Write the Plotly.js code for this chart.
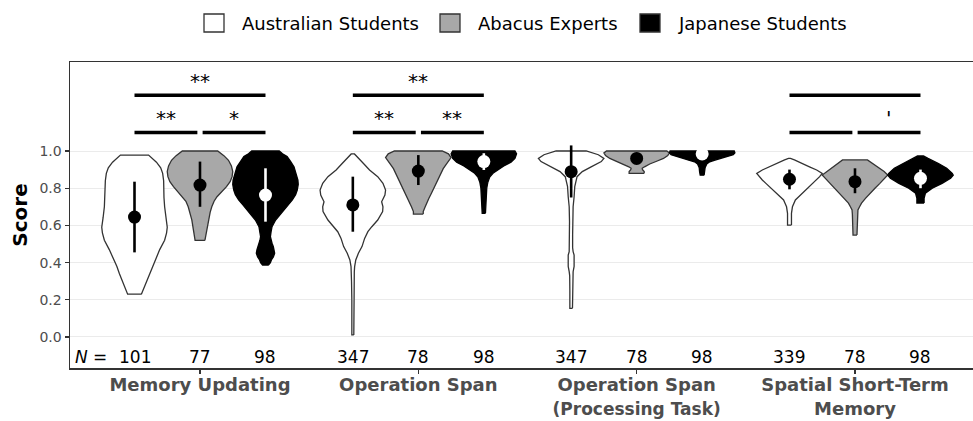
<!DOCTYPE html>
<html>
<head>
<meta charset="utf-8">
<script src="https://cdn.plot.ly/plotly-3.0.1.min.js"></script>
<style>
  html, body { margin: 0; padding: 0; background: #ffffff; }
  #chart { width: 973px; height: 421px; }
</style>
</head>
<body>
<div id="chart"></div>
<script>
// ---------------- DATA ----------------
const categories = ["Memory Updating", "Operation Span", "Operation Span", "Spatial Short-Term"];
const categorySub = ["", "", "(Processing Task)", "Memory"];
const groups = ["Australian Students", "Abacus Experts", "Japanese Students"];

const nAus = [101, 347, 347, 339];
const nAbacus = [77, 78, 78, 78];
const nJapanese = [98, 98, 98, 98];

// mean and +/- 1 SD per task (Memory Updating, Operation Span, OS Processing, Spatial STM)
const meanAus = [0.645, 0.710, 0.889, 0.848];
const loAus = [0.455, 0.566, 0.750, 0.794];
const hiAus = [0.835, 0.862, 1.030, 0.900];
const meanAbacus = [0.817, 0.892, 0.960, 0.835];
const loAbacus = [0.700, 0.817, 0.930, 0.773];
const hiAbacus = [0.943, 0.978, 0.990, 0.907];
const meanJapanese = [0.763, 0.943, 0.984, 0.853];
const loJapanese = [0.620, 0.898, 0.965, 0.800];
const hiJapanese = [0.907, 0.988, 1.000, 0.900];

// violin density profiles (score levels and relative density, max = 1)
const muAusScore = [0.23, 0.26, 0.30, 0.34, 0.38, 0.43, 0.47, 0.52, 0.56, 0.59, 0.64, 0.70, 0.75, 0.79, 0.84, 0.88, 0.91, 0.94, 0.96, 0.978];
const muAusDens  = [0.21, 0.28, 0.37, 0.46, 0.54, 0.66, 0.77, 0.92, 0.98, 1.00, 0.96, 0.92, 0.90, 0.90, 0.89, 0.86, 0.80, 0.67, 0.55, 0.43];
const muAbaScore = [0.52, 0.55, 0.575, 0.63, 0.67, 0.70, 0.73, 0.754, 0.78, 0.808, 0.835, 0.862, 0.89, 0.92, 0.95, 0.975, 1.0];
const muAbaDens  = [0.15, 0.18, 0.20, 0.25, 0.31, 0.36, 0.43, 0.52, 0.67, 0.81, 0.92, 0.98, 1.00, 0.96, 0.87, 0.73, 0.54];
const muJapScore = [0.387, 0.40, 0.414, 0.43, 0.45, 0.47, 0.486, 0.504, 0.52, 0.539, 0.565, 0.593, 0.629, 0.655, 0.683, 0.71, 0.737, 0.765, 0.79, 0.82, 0.844, 0.88, 0.915, 0.945, 0.97, 0.985, 1.0];
const muJapDens  = [0.09, 0.15, 0.18, 0.24, 0.28, 0.26, 0.24, 0.20, 0.17, 0.15, 0.17, 0.20, 0.31, 0.43, 0.56, 0.69, 0.82, 0.92, 0.97, 1.00, 0.99, 0.93, 0.87, 0.76, 0.66, 0.52, 0.42];

const osAusScore = [0.011, 0.10, 0.20, 0.30, 0.35, 0.378, 0.414, 0.45, 0.486, 0.53, 0.566, 0.593, 0.629, 0.674, 0.70, 0.727, 0.763, 0.79, 0.826, 0.862, 0.898, 0.93, 0.952, 0.97, 0.984];
const osAusDens  = [0.03, 0.03, 0.03, 0.04, 0.045, 0.055, 0.09, 0.17, 0.28, 0.36, 0.46, 0.58, 0.76, 0.91, 0.92, 0.88, 0.98, 1.00, 0.92, 0.76, 0.51, 0.34, 0.23, 0.12, 0.05];
const osAbaScore = [0.661, 0.674, 0.70, 0.72, 0.745, 0.773, 0.80, 0.826, 0.855, 0.88, 0.905, 0.925, 0.945, 0.965, 0.985, 1.0];
const osAbaDens  = [0.15, 0.15, 0.21, 0.25, 0.32, 0.40, 0.47, 0.56, 0.63, 0.69, 0.76, 0.84, 0.93, 1.00, 0.92, 0.73];
const osJapScore = [0.665, 0.70, 0.75, 0.80, 0.83, 0.86, 0.88, 0.90, 0.92, 0.94, 0.96, 0.985, 1.0];
const osJapDens  = [0.05, 0.06, 0.07, 0.09, 0.12, 0.18, 0.28, 0.43, 0.61, 0.83, 0.95, 1.00, 0.95];

const ospAusScore = [0.154, 0.25, 0.33, 0.351, 0.38, 0.41, 0.44, 0.459, 0.48, 0.55, 0.62, 0.70, 0.754, 0.808, 0.862, 0.889, 0.915, 0.943, 0.96, 0.98, 1.0];
const ospAusDens  = [0.04, 0.04, 0.045, 0.06, 0.09, 0.10, 0.09, 0.06, 0.045, 0.045, 0.05, 0.06, 0.09, 0.11, 0.18, 0.34, 0.61, 0.92, 1.00, 0.83, 0.46];
const ospAbaScore = [0.88, 0.89, 0.90, 0.907, 0.915, 0.93, 0.945, 0.96, 0.975, 0.99, 1.0];
const ospAbaDens  = [0.23, 0.23, 0.18, 0.17, 0.24, 0.40, 0.61, 0.82, 0.95, 1.00, 0.92];
const ospJapScore = [0.87, 0.89, 0.91, 0.93, 0.94, 0.95, 0.96, 0.97, 0.98, 0.99, 1.0];
const ospJapDens  = [0.06, 0.08, 0.09, 0.14, 0.21, 0.37, 0.55, 0.76, 0.95, 1.00, 0.98];

const ssAusScore = [0.602, 0.63, 0.665, 0.70, 0.72, 0.737, 0.755, 0.773, 0.79, 0.808, 0.826, 0.844, 0.862, 0.88, 0.898, 0.915, 0.933, 0.952, 0.96];
const ssAusDens  = [0.06, 0.06, 0.06, 0.09, 0.14, 0.18, 0.29, 0.40, 0.50, 0.61, 0.72, 0.83, 0.92, 1.00, 0.83, 0.61, 0.40, 0.15, 0.03];
const ssAbaScore = [0.548, 0.60, 0.629, 0.66, 0.683, 0.70, 0.72, 0.745, 0.773, 0.80, 0.826, 0.85, 0.871, 0.89, 0.91, 0.93, 0.952];
const ssAbaDens  = [0.06, 0.07, 0.08, 0.08, 0.09, 0.14, 0.20, 0.32, 0.46, 0.61, 0.76, 0.89, 1.00, 0.89, 0.73, 0.55, 0.38];
const ssJapScore = [0.72, 0.746, 0.773, 0.80, 0.826, 0.853, 0.87, 0.88, 0.907, 0.933, 0.96, 0.973];
const ssJapDens  = [0.11, 0.11, 0.15, 0.36, 0.66, 0.92, 1.00, 0.97, 0.80, 0.55, 0.23, 0.09];

// significance comparisons: task index, from group, to group, level (0 lower, 1 upper), label
const sigTask  = [0, 0, 0, 1, 1, 1, 3, 3, 3];
const sigFrom  = [0, 1, 0, 0, 1, 0, 0, 1, 0];
const sigTo    = [1, 2, 2, 1, 2, 2, 1, 2, 2];
const sigLevel = [0, 0, 1, 0, 0, 1, 0, 0, 1];
const sigLabel = ["**", "*", "**", "**", "**", "**", "", "'", ""];

const yTickVals = [0, 0.2, 0.4, 0.6, 0.8, 1.0];
const yTickText = ["0.0", "0.2", "0.4", "0.6", "0.8", "1.0"];

// ---------------- BUILD ----------------
const FONT = "DejaVu Sans, Liberation Sans, Arial, sans-serif";
const W = 973, H = 421;
const M = { l: 70, r: 0, t: 62, b: 53 };
const PW = W - M.l - M.r, PH = H - M.t - M.b;
const DODGE = [-0.3, 0, 0.3];
const HALF = 0.15;
const fills = ["#ffffff", "#a8a8a8", "#000000"];
const outlines = ["#333333", "#333333", "#000000"];
const pointCol = ["#000000", "#000000", "#ffffff"];

const profiles = [
  [[muAusScore, muAusDens], [muAbaScore, muAbaDens], [muJapScore, muJapDens]],
  [[osAusScore, osAusDens], [osAbaScore, osAbaDens], [osJapScore, osJapDens]],
  [[ospAusScore, ospAusDens], [ospAbaScore, ospAbaDens], [ospJapScore, ospJapDens]],
  [[ssAusScore, ssAusDens], [ssAbaScore, ssAbaDens], [ssJapScore, ssJapDens]]
];
const means = [meanAus, meanAbacus, meanJapanese];
const los = [loAus, loAbacus, loJapanese];
const his = [hiAus, hiAbacus, hiJapanese];
const ns = [nAus, nAbacus, nJapanese];

const traces = [];
for (let c = 0; c < categories.length; c++) {
  for (let g = 0; g < groups.length; g++) {
    const pos = c + 1 + DODGE[g];
    const ys = profiles[c][g][0], ds = profiles[c][g][1];
    const xx = [], yy = [];
    for (let i = 0; i < ys.length; i++) { xx.push(pos + ds[i] * HALF); yy.push(ys[i]); }
    for (let i = ys.length - 1; i >= 0; i--) { xx.push(pos - ds[i] * HALF); yy.push(ys[i]); }
    xx.push(xx[0]); yy.push(yy[0]);
    traces.push({
      type: "scatter", mode: "lines", x: xx, y: yy, fill: "toself",
      fillcolor: fills[g], line: { color: outlines[g], width: 1.3 },
      hoverinfo: "skip", showlegend: false, name: groups[g]
    });
  }
}
for (let c = 0; c < categories.length; c++) {
  for (let g = 0; g < groups.length; g++) {
    const pos = c + 1 + DODGE[g];
    traces.push({
      type: "scatter", mode: "lines", x: [pos, pos], y: [los[g][c], his[g][c]],
      line: { color: pointCol[g], width: 2.6 }, hoverinfo: "skip", showlegend: false
    });
    traces.push({
      type: "scatter", mode: "markers", x: [pos], y: [means[g][c]],
      marker: { color: pointCol[g], size: 13, line: { width: 0 } },
      hoverinfo: "skip", showlegend: false
    });
  }
}

const annotations = [];
const shapes = [];
// manual legend (key boxes + labels) above the panel
const LEG_BOX_PX = [204, 440, 640];
const LEG_Y_PX = 23;
const px2x = (px) => (px - M.l) / PW;
const px2y = (py) => (H - M.b - py) / PH;
for (let g = 0; g < groups.length; g++) {
  shapes.push({
    type: "rect", xref: "paper", yref: "paper",
    x0: px2x(LEG_BOX_PX[g]), x1: px2x(LEG_BOX_PX[g] + 20),
    y0: px2y(LEG_Y_PX + 9), y1: px2y(LEG_Y_PX - 9),
    fillcolor: fills[g], line: { color: "#333333", width: 1.3 }
  });
  annotations.push({
    xref: "paper", yref: "paper", x: px2x(LEG_BOX_PX[g] + 36), y: px2y(LEG_Y_PX),
    xanchor: "left", yanchor: "middle", showarrow: false, text: groups[g],
    font: { family: FONT, size: 18, color: "#000" }
  });
}
// N labels
annotations.push({
  xref: "paper", yref: "y", x: 0, y: -0.105, xanchor: "left", yanchor: "middle", xshift: 3,
  text: "<i>N</i> =", showarrow: false, font: { family: FONT, size: 17, color: "#000" }
});
for (let c = 0; c < categories.length; c++) {
  for (let g = 0; g < groups.length; g++) {
    annotations.push({
      xref: "x", yref: "y", x: c + 1 + DODGE[g], y: -0.105, xanchor: "center", yanchor: "middle",
      text: String(ns[g][c]), showarrow: false, font: { family: FONT, size: 17, color: "#000" }
    });
  }
}
// significance bars
const LEVEL_Y = [1.10, 1.30];
const GAP = 0.012;
for (let k = 0; k < sigTask.length; k++) {
  let x0 = sigTask[k] + 1 + DODGE[sigFrom[k]];
  let x1 = sigTask[k] + 1 + DODGE[sigTo[k]];
  if (sigLevel[k] === 0) {
    if (sigFrom[k] === 1) x0 += GAP;
    if (sigTo[k] === 1) x1 -= GAP;
  }
  const y = LEVEL_Y[sigLevel[k]];
  shapes.push({ type: "line", xref: "x", yref: "y", x0: x0, x1: x1, y0: y, y1: y,
    line: { color: "#000", width: 3.5 } });
  if (sigLabel[k]) {
    annotations.push({
      xref: "x", yref: "y", x: (x0 + x1) / 2, y: y + 0.075, xanchor: "center", yanchor: "middle",
      text: sigLabel[k], showarrow: false, font: { family: FONT, size: 20, color: "#000000" }
    });
  }
}

const tickText = categories.map((t, i) => {
  if (!categorySub[i]) return "<b>" + t + "</b>";
  const sz = i === 2 ? 17 : 18;
  return "<b>" + t + "</b><br><b><span style='font-size:" + sz + "px'>" + categorySub[i] + "</span></b>";
});

const layout = {
  width: W, height: H,
  margin: { l: M.l, r: M.r, t: M.t, b: M.b, pad: 0 },
  paper_bgcolor: "#ffffff", plot_bgcolor: "#ffffff",
  font: { family: FONT, color: "#000" },
  showlegend: false,
  xaxis: {
    range: [0.4046, 4.5405], tickvals: [1, 2, 3, 4], ticktext: tickText,
    showgrid: false, zeroline: false, showline: true, mirror: true,
    linecolor: "#333333", linewidth: 1.5,
    ticks: "outside", ticklen: 4, tickwidth: 1.2, tickcolor: "#333333",
    ticklabelstandoff: -4,
    tickfont: { family: FONT, size: 18, color: "#4d4d4d" }, fixedrange: true
  },
  yaxis: {
    range: [-0.1667, 1.4785], tickvals: yTickVals, ticktext: yTickText,
    showgrid: true, gridcolor: "#ebebeb", gridwidth: 1, zeroline: false,
    showline: true, linecolor: "#333333", linewidth: 1.5,
    ticks: "outside", ticklen: 4, tickwidth: 1.2, tickcolor: "#333333",
    tickfont: { family: FONT, size: 14, color: "#4d4d4d" },
    title: { text: "<b>Score</b>", font: { family: FONT, size: 20, color: "#000" }, standoff: 6 },
    fixedrange: true
  },
  annotations: annotations,
  shapes: shapes
};

Plotly.newPlot("chart", traces, layout, { displayModeBar: false, staticPlot: true });
</script>
</body>
</html>
